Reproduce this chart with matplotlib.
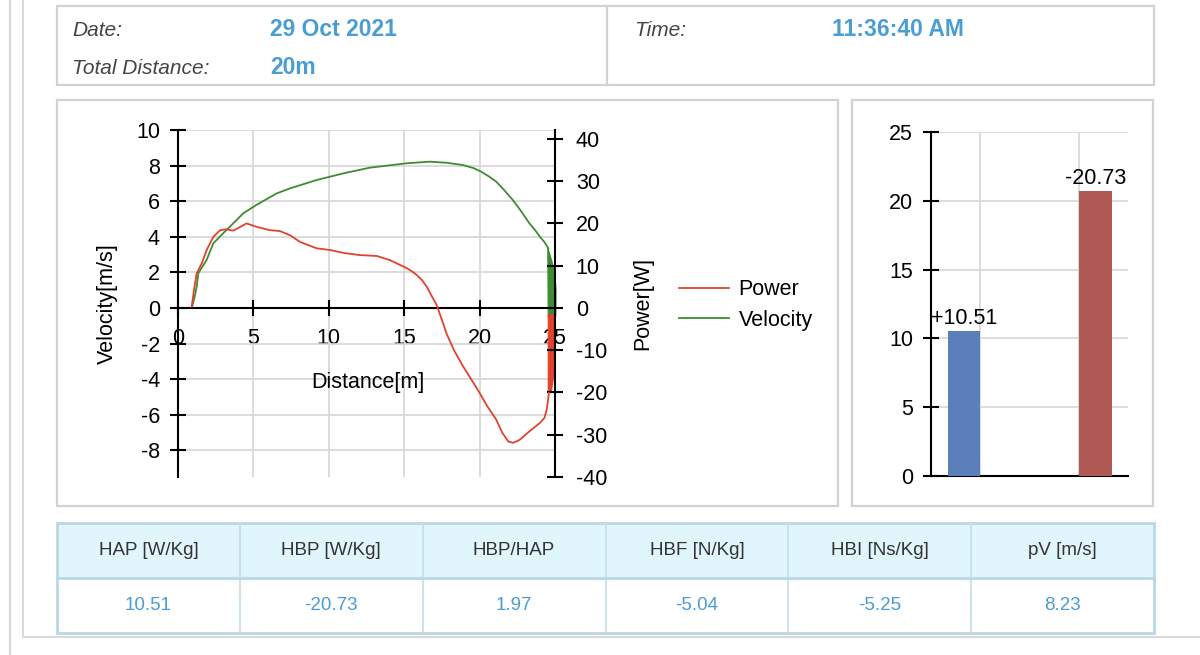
import matplotlib
matplotlib.use('Agg')
import matplotlib.pyplot as plt
from matplotlib.patches import Rectangle
from matplotlib.lines import Line2D

plt.rcParams['font.family'] = ['Liberation Sans', 'DejaVu Sans']
plt.rcParams['axes.unicode_minus'] = False

# ---- data ----
info_labels = ['Date:', 'Total Distance:']
info_values = ['29 Oct 2021', '20m']
time_label, time_value = 'Time:', '11:36:40 AM'

dist_v = [0.91, 1.1, 1.24, 1.35, 1.6, 1.9, 2.34, 3.0, 3.67, 4.33, 5.2, 6.55, 7.43, 9.2,
          11.0, 12.7, 15.17, 16.7, 17.8, 18.9, 19.6, 20.1, 20.6, 21.1, 21.6, 22.2, 22.7,
          23.3, 23.7, 24.0, 24.3, 24.56]
velocity = [0.0, 0.6, 1.2, 1.95, 2.3, 2.7, 3.63, 4.2, 4.76, 5.32, 5.79, 6.44, 6.72, 7.19,
            7.57, 7.88, 8.13, 8.22, 8.16, 8.03, 7.86, 7.66, 7.4, 7.1, 6.65, 6.07, 5.5,
            4.76, 4.35, 4.0, 3.7, 3.35]
dist_p = [0.91, 1.05, 1.24, 1.57, 1.9, 2.34, 2.79, 3.2, 3.67, 4.55, 5.2, 6.1, 6.76, 7.43,
          8.1, 9.2, 10.1, 11.0, 12.07, 13.18, 14.06, 15.17, 15.5, 15.83, 16.2, 16.5, 16.8,
          17.15, 17.5, 17.8, 18.3, 18.9, 19.5, 20.0, 20.5, 21.1, 21.5, 21.9, 22.2, 22.5,
          22.7, 23.3, 24.0, 24.3, 24.45, 24.6]
power = [0.3, 4.0, 8.2, 10.5, 13.7, 16.8, 18.4, 18.6, 18.3, 20.0, 19.2, 18.4, 18.2, 17.2,
         15.6, 14.1, 13.7, 13.0, 12.5, 12.3, 11.3, 9.4, 8.7, 7.8, 6.5, 5.0, 3.0,
         0.7, -2.8, -6.0, -10.0, -13.8, -17.2, -20.1, -23.2, -26.4, -29.5, -31.6, -31.9, -31.5,
         -31.1, -29.2, -27.2, -26.0, -24.1, -20.1]
# dense oscillation at the end of the run shows as solid bands
vel_tail_x = [24.52, 24.8, 25.0, 25.07, 25.05, 24.55, 24.52]
vel_tail_y = [3.4, 2.6, 1.8, 1.0, -0.5, -0.5, 3.4]
pow_tail_x = [24.55, 24.55, 25.02, 25.02, 24.88, 24.75, 24.55]
pow_tail_y = [-20.1, -1.65, -1.65, -6.0, -17.0, -20.0, -20.1]

bar_vals = [10.51, 20.73]
bar_texts = ['+10.51', '-20.73']
bar_colors = ['#5b7fbb', '#b05854']

table_cols = ['HAP [W/Kg]', 'HBP [W/Kg]', 'HBP/HAP', 'HBF [N/Kg]', 'HBI [Ns/Kg]', 'pV [m/s]']
table_vals = ['10.51', '-20.73', '1.97', '-5.04', '-5.25', '8.23']

W, H = 1200, 655
RED, GREEN, BLUE = '#e2412e', '#3e8c32', '#4a9dd3'
BOX = '#d2d2d2'
GRID = '#d6d6d6'
FS = 15.5


def fr(l, t, r, b):
    return [l / W, 1 - b / H, (r - l) / W, (b - t) / H]


fig = plt.figure(figsize=(W / 100, H / 100), dpi=100)

# ---- page furniture (pixel coords) ----
bg = fig.add_axes([0, 0, 1, 1], zorder=-5)
bg.set_xlim(0, W); bg.set_ylim(H, 0); bg.axis('off')
bg.plot([10, 10], [0, H], color='#dadada', lw=1.5)
bg.plot([23, 23, W], [0, 637, 637], color='#dadada', lw=1.5)
bg.add_patch(Rectangle((57, 6), 1097, 79, fill=False, ec=BOX, lw=1.6))
bg.plot([607, 607], [6, 85], color=BOX, lw=1.6)
bg.add_patch(Rectangle((57, 100), 781, 406, fill=False, ec=BOX, lw=1.6))
bg.add_patch(Rectangle((852, 100), 301, 406, fill=False, ec=BOX, lw=1.6))

for i, (lab, val) in enumerate(zip(info_labels, info_values)):
    y = 30 + 38 * i
    bg.text(72, y, lab, fontsize=15, style='italic', color='#444444', va='center')
    bg.text(270, y, val, fontsize=16.5, weight='bold', color=BLUE, va='center')
bg.text(634, 30, time_label, fontsize=15, style='italic', color='#444444', va='center')
bg.text(832, 30, time_value, fontsize=16.5, weight='bold', color=BLUE, va='center')

# ---- table ----
t_l, t_r, t_t, t_m, t_b = 57, 1154, 523, 578, 633
cw = (t_r - t_l) / len(table_cols)
bg.add_patch(Rectangle((t_l, t_t), t_r - t_l, t_m - t_t, fc='#e1f5fc', ec='none'))
for i, (c, v) in enumerate(zip(table_cols, table_vals)):
    x0 = t_l + i * cw
    if i:
        bg.plot([x0, x0], [t_t, t_b], color='#c4dfea', lw=1.2)
    bg.text(x0 + cw / 2, (t_t + t_m) / 2, c, fontsize=13.5, color='#333333', ha='center', va='center')
    bg.text(x0 + cw / 2, (t_m + t_b) / 2, v, fontsize=13.5, color=BLUE, ha='center', va='center')
bg.plot([t_l, t_r], [t_m, t_m], color='#b9d8e5', lw=2)
bg.add_patch(Rectangle((t_l, t_t), t_r - t_l, t_b - t_t, fill=False, ec='#b9d8e5', lw=2))

# ---- velocity / power chart ----
ax = fig.add_axes(fr(178, 130, 555, 477))
ax.set_facecolor('none')
ax.set_xlim(0, 25)
ax.set_ylim(-9.5, 10)
ax.plot(dist_v, velocity, color=GREEN, lw=1.3)
ax.fill(vel_tail_x, vel_tail_y, color=GREEN, lw=0.8, clip_on=False)
ax.set_xticks(range(0, 26, 5))
ax.set_yticks(range(-8, 11, 2))
ax.set_yticklabels([str(v) for v in range(-8, 11, 2)])
ax.grid(True, color=GRID, lw=1.2)
ax.set_axisbelow(True)
for s in ['top', 'right']:
    ax.spines[s].set_visible(False)
ax.spines['bottom'].set_position(('data', 0))
for s in ['left', 'bottom']:
    ax.spines[s].set_linewidth(1.5)
ax.tick_params(axis='y', direction='inout', length=12, width=1.5, pad=7, labelsize=FS)
ax.tick_params(axis='x', direction='inout', length=12, width=1.5, pad=8.5, labelsize=FS)

ax2 = ax.twinx()
ax2.set_ylim(-40, 42.1)
ax2.plot(dist_p, power, color=RED, lw=1.3)
ax2.fill(pow_tail_x, pow_tail_y, color=RED, lw=0.8, clip_on=False)
ax2.set_yticks(range(-40, 41, 10))
ax2.set_yticklabels([str(v) for v in range(-40, 41, 10)])
for s in ['top', 'left', 'bottom']:
    ax2.spines[s].set_visible(False)
ax2.spines['right'].set_linewidth(1.5)
ax2.tick_params(axis='y', direction='inout', length=12, width=1.5, pad=9, labelsize=FS)

fig.text(107 / W, 1 - 304 / H, 'Velocity[m/s]', rotation=90, fontsize=FS, ha='center', va='center')
fig.text(643 / W, 1 - 304 / H, 'Power[W]', rotation=90, fontsize=FS, ha='center', va='center')
fig.text(368 / W, 1 - 383 / H, 'Distance[m]', fontsize=FS, ha='center', va='center')

handles = [Line2D([], [], color=RED, lw=1.3), Line2D([], [], color=GREEN, lw=1.3)]
fig.legend(handles, ['Power', 'Velocity'], loc='center left', frameon=False,
           bbox_to_anchor=(660 / W, 1 - 305 / H), fontsize=FS, handlelength=2.3,
           handletextpad=0.45, labelspacing=0.45)

# ---- bar chart ----
bx = fig.add_axes(fr(931, 132, 1128, 476))
bx.set_facecolor('none')
bx.set_xlim(0, 2)
bx.set_ylim(0, 25)
bars = bx.bar([0.335, 1.67], bar_vals, width=0.33, color=bar_colors, zorder=3)
for b, t in zip(bars, bar_texts):
    bx.text(b.get_x() + b.get_width() / 2, b.get_height() + 0.15, t, fontsize=FS,
            ha='center', va='bottom', zorder=4)
bx.set_xticks([0.5, 1.5])
bx.set_xticklabels([])
bx.set_yticks(range(0, 26, 5))
bx.grid(True, color=GRID, lw=1.2)
bx.set_axisbelow(True)
for s in ['top', 'right']:
    bx.spines[s].set_visible(False)
for s in ['left', 'bottom']:
    bx.spines[s].set_linewidth(1.5)
bx.tick_params(axis='x', length=0)
bx.tick_params(axis='y', direction='inout', length=12, width=1.5, pad=7, labelsize=FS)

fig.savefig('out.png', dpi=100)
